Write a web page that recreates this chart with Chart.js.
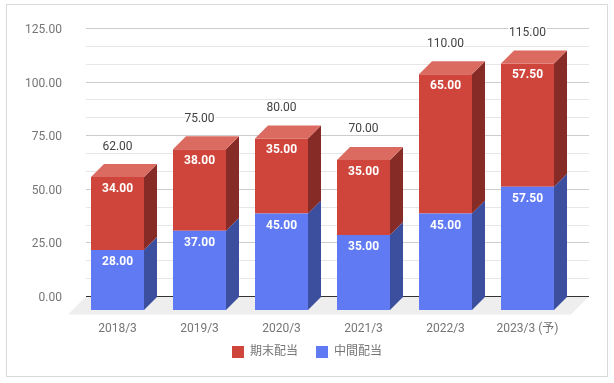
<!DOCTYPE html>
<html>
<head>
<meta charset="utf-8">
<script src="https://cdn.jsdelivr.net/npm/chart.js@4"></script>
<style>
  html, body { margin: 0; padding: 0; background: #fff; }
  #wrap { position: relative; width: 614px; height: 383px; }
  #frame { position: absolute; left: 6px; top: 4px; width: 600px; height: 371px; border: 1px solid #d9d9d9; pointer-events: none; }
</style>
</head>
<body>
<div id="wrap">
  <canvas id="dividendChart" width="614" height="383"></canvas>
  <div id="frame"></div>
</div>
<script>
const categories = ["2018/3", "2019/3", "2020/3", "2021/3", "2022/3", "2023/3 (予)"];
const interim = [28, 37, 45, 35, 45, 57.5];
const yearEnd = [34, 38, 35, 35, 65, 57.5];
const totals = [62, 75, 80, 70, 110, 115];

const fontFamily = "Roboto, 'Noto Sans CJK JP', sans-serif";
const depth = 13; // how far the back wall sits from the bars

const faces = [
  { side: "#3c4e9e", top: "#7f94f5" },
  { side: "#862b26", top: "#db6b60" },
];

// floor, back wall grid and zero line
const wallPlugin = {
  id: "wall",
  afterLayout(chart) {
    // x labels hang below the axis box, keep them from being clipped
    chart.scales.x.bottom += 13;
  },
  beforeDatasetsDraw(chart) {
    const { ctx, chartArea, scales } = chart;
    const left = chartArea.left + 9.5;
    const right = chartArea.right + 20.5;
    const zero = Math.round(scales.y.getPixelForValue(0) - depth) - 0.5;

    ctx.save();
    ctx.fillStyle = "#eeeeee";
    ctx.beginPath();
    ctx.moveTo(left, zero);
    ctx.lineTo(right, zero);
    ctx.lineTo(right - 18, zero + 18);
    ctx.lineTo(left - 18, zero + 18);
    ctx.closePath();
    ctx.fill();

    ctx.lineWidth = 1;
    scales.y.ticks.forEach((tick, i) => {
      // two minor lines above every major one
      for (let m = 0; m < 3; m++) {
        if (m > 0 && i === scales.y.ticks.length - 1) continue;
        const y = Math.round(scales.y.getPixelForValue(tick.value + m * 25 / 3) - depth) - 0.5;
        ctx.strokeStyle = m === 0 ? (tick.value === 0 ? "#333333" : "#cccccc") : "#e6e6e6";
        ctx.beginPath();
        ctx.moveTo(left, y);
        ctx.lineTo(right, y);
        ctx.stroke();
      }
    });
    ctx.restore();
  },
  afterDatasetsDraw(chart) {
    const { ctx } = chart;
    const last = chart.data.datasets.length - 1;

    ctx.save();
    chart.data.datasets.forEach((ds, d) => {
      chart.getDatasetMeta(d).data.forEach((bar) => {
        const r = bar.x + bar.width / 2;
        const l = bar.x - bar.width / 2;
        ctx.fillStyle = faces[d].side;
        ctx.beginPath();
        ctx.moveTo(r, bar.y);
        ctx.lineTo(r + depth, bar.y - depth);
        ctx.lineTo(r + depth, bar.base - depth);
        ctx.lineTo(r, bar.base);
        ctx.closePath();
        ctx.fill();
        if (d === last) {
          ctx.fillStyle = faces[d].top;
          ctx.beginPath();
          ctx.moveTo(l, bar.y);
          ctx.lineTo(l + depth, bar.y - depth);
          ctx.lineTo(r + depth, bar.y - depth);
          ctx.lineTo(r, bar.y);
          ctx.closePath();
          ctx.fill();
        }
      });
    });

    // value labels
    ctx.textAlign = "center";
    ctx.textBaseline = "middle";
    chart.data.datasets.forEach((ds, d) => {
      chart.getDatasetMeta(d).data.forEach((bar, i) => {
        ctx.font = "bold 12px " + fontFamily;
        ctx.fillStyle = "#ffffff";
        ctx.fillText(ds.data[i].toFixed(2), bar.x, bar.y + 12);
        if (d === last) {
          const y = bar.y - depth - 17.5;
          ctx.font = "12px " + fontFamily;
          ctx.lineWidth = 3;
          ctx.strokeStyle = "#ffffff";
          ctx.strokeText(totals[i].toFixed(2), bar.x, y);
          ctx.fillStyle = "#424242";
          ctx.fillText(totals[i].toFixed(2), bar.x, y);
        }
      });
    });
    ctx.restore();
  },
};

new Chart(document.getElementById("dividendChart"), {
  type: "bar",
  data: {
    labels: categories,
    datasets: [
      { label: "中間配当", data: interim, backgroundColor: "#5f7af3" },
      { label: "期末配当", data: yearEnd, backgroundColor: "#cf453b" },
    ],
  },
  options: {
    responsive: false,
    animation: false,
    layout: { padding: { top: 42, right: 0, bottom: 15, left: 0 } },
    datasets: { bar: { barPercentage: 53 / 82, categoryPercentage: 1 } },
    scales: {
      x: {
        stacked: true,
        afterFit(scale) { scale.height = 18; },
        grid: { display: false, drawTicks: false },
        border: { display: false },
        ticks: { color: "#757575", font: { family: fontFamily, size: 12 }, padding: 12, maxRotation: 0, autoSkip: false },
      },
      y: {
        stacked: true,
        min: 0,
        max: 125,
        afterFit(scale) { scale.width = 76.5; },
        grid: { display: false, drawTicks: false },
        border: { display: false },
        ticks: {
          stepSize: 25,
          color: "#757575",
          font: { family: fontFamily, size: 12 },
          padding: 14.5,
          labelOffset: -12,
          callback: (v) => v.toFixed(2),
        },
      },
      // empty axis, only keeps the right margin so the legend stays centred on the page
      spacer: {
        position: "right",
        min: 0,
        max: 125,
        afterFit(scale) { scale.width = 45.5; },
        grid: { display: false, drawTicks: false },
        border: { display: false },
        ticks: { display: false },
      },
    },
    plugins: {
      title: { display: false },
      tooltip: { enabled: false },
      legend: {
        position: "bottom",
        reverse: true,
        labels: { boxWidth: 12, boxHeight: 12, padding: 18, color: "#757575", font: { family: fontFamily, size: 12 } },
      },
    },
  },
  plugins: [wallPlugin],
});
</script>
</body>
</html>
